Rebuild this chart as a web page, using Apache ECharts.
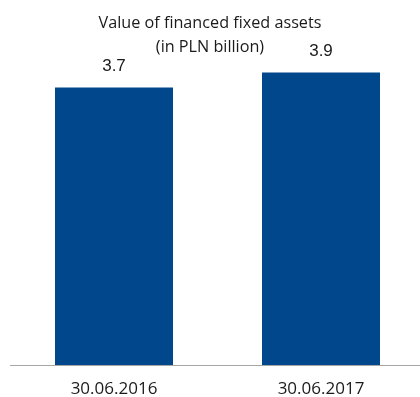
<!DOCTYPE html>
<html>
<head>
<meta charset="utf-8">
<script src="https://cdn.jsdelivr.net/npm/echarts@6/dist/echarts.min.js"></script>
<style>
  html, body { margin: 0; padding: 0; background: #ffffff; }
  #chart { width: 420px; height: 397px; }
</style>
</head>
<body>
<div id="chart"></div>
<script>
// Financed fixed assets, PLN billion
const categories = ['30.06.2016', '30.06.2017'];
const values = [3.7, 3.9];
const titleLines = ['Value of financed fixed assets', '(in PLN billion)'];

const chart = echarts.init(document.getElementById('chart'), null, { renderer: 'canvas' });

chart.setOption({
  animation: false,
  backgroundColor: '#ffffff',
  title: {
    text: titleLines.join('\n'),
    left: 'center',
    top: 6,
    textStyle: {
      fontFamily: 'Open Sans',
      fontWeight: 'normal',
      fontSize: 16.2,
      lineHeight: 24,
      color: '#1a1a1a',
      align: 'center'
    }
  },
  grid: {
    left: 10.5,
    width: 414,
    top: 65,
    bottom: 32,
    containLabel: false,
    outerBoundsMode: 'none'
  },
  xAxis: {
    type: 'category',
    data: categories,
    axisTick: { show: false },
    axisLine: { lineStyle: { color: '#a6a6a6', width: 1 } },
    axisLabel: {
      margin: 16,
      fontFamily: 'Open Sans',
      fontSize: 17,
      color: '#1a1a1a'
    }
  },
  yAxis: {
    type: 'value',
    min: 0,
    max: 4,
    show: false,
    splitLine: { show: false }
  },
  series: [{
    type: 'bar',
    data: values,
    barWidth: 118,
    itemStyle: { color: '#00478c' },
    label: {
      show: true,
      position: 'top',
      distance: 13,
      fontFamily: 'Liberation Sans',
      fontSize: 17,
      color: '#1a1a1a',
      formatter: p => p.value.toFixed(1)
    }
  }]
});
</script>
</body>
</html>
